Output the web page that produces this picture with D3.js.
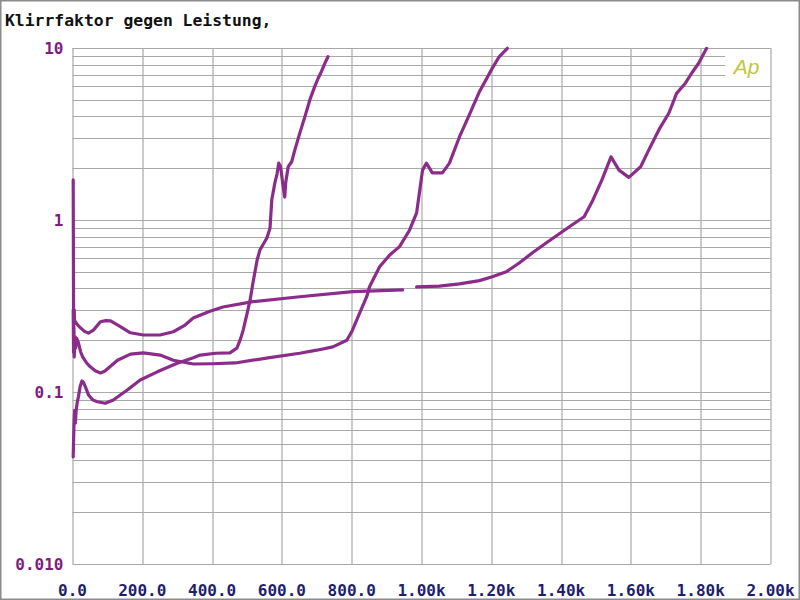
<!DOCTYPE html>
<html>
<head>
<meta charset="utf-8">
<script src="https://cdn.jsdelivr.net/npm/d3@7"></script>
<style>
  body { margin: 0; background: #fff; }
  svg { display: block; }
</style>
</head>
<body>
<div id="chart"></div>
<script>
// THD vs power, three measurements (watts, percent)
const curveA = [[2, 0.042], [4, 0.062], [6, 0.078], [8, 0.066], [11, 0.08], [14, 0.088], [17, 0.094], [22, 0.108],
    [27, 0.116], [31, 0.114], [37, 0.107], [46, 0.096], [58, 0.090], [71, 0.0878], [94, 0.086], [117, 0.0899],
    [137, 0.096], [157, 0.1027], [194, 0.1174], [243, 0.131], [300, 0.147], [346, 0.158], [366, 0.164],
    [410, 0.168], [451, 0.169], [471, 0.180], [482, 0.205], [489, 0.229], [500, 0.285], [509, 0.343],
    [517, 0.430], [529, 0.585], [537, 0.669], [557, 0.786], [566, 0.899], [571, 1.31], [580, 1.65],
    [586, 1.85], [591, 2.14], [596, 2.05], [603, 1.60], [608, 1.36], [611, 1.65], [618, 2.04], [628, 2.18],
    [637, 2.55], [651, 3.19], [666, 3.99], [680, 4.99], [694, 5.96], [704, 6.67], [713, 7.28], [723, 8.15],
    [732, 8.90]];

const curveB = [[2, 0.30], [3, 0.17], [4, 0.24], [5, 0.16], [7, 0.21], [9, 0.18], [12, 0.205], [17, 0.193],
    [23, 0.172], [29, 0.160], [40, 0.148], [51, 0.140], [65, 0.133], [80, 0.129], [92, 0.132], [103, 0.138],
    [129, 0.153], [166, 0.166], [203, 0.169], [251, 0.164], [289, 0.153], [346, 0.1455], [400, 0.146],
    [466, 0.1475], [560, 0.158], [651, 0.168], [700, 0.175], [746, 0.183], [786, 0.200], [800, 0.224],
    [823, 0.288], [843, 0.358], [851, 0.409], [880, 0.535], [909, 0.626], [937, 0.700], [966, 0.875],
    [986, 1.10], [994, 1.44], [1003, 1.95], [1014, 2.14], [1031, 1.88], [1060, 1.88], [1080, 2.14],
    [1109, 3.05], [1137, 4.08], [1166, 5.57], [1203, 7.64], [1223, 8.92], [1246, 9.96]];

const curveC = [[2, 1.71], [3, 0.30], [4, 0.27], [5, 0.30], [6, 0.25], [8.6, 0.256], [15, 0.245], [23, 0.236],
    [35, 0.225], [46, 0.220], [60, 0.229], [80, 0.256], [95, 0.260], [109, 0.259], [137, 0.240], [166, 0.221],
    [203, 0.2145], [251, 0.2145], [289, 0.224], [320, 0.243], [346, 0.269], [390, 0.293], [431, 0.312],
    [517, 0.335], [651, 0.358], [803, 0.383], [946, 0.392], null, [986, 0.408], [1051, 0.413], [1109, 0.425],
    [1166, 0.444], [1203, 0.468], [1243, 0.50], [1280, 0.562], [1317, 0.643], [1357, 0.735], [1394, 0.829],
    [1431, 0.935], [1466, 1.045], [1489, 1.28], [1517, 1.71], [1543, 2.33], [1566, 1.95], [1594, 1.77],
    [1628, 2.04], [1651, 2.55], [1680, 3.34], [1709, 4.19], [1731, 5.45], [1756, 6.24], [1774, 7.13],
    [1794, 8.15], [1817, 9.96]];

const xTicks = [0, 200, 400, 600, 800, 1000, 1200, 1400, 1600, 1800, 2000];
const xTickLabels = ["0.0", "200.0", "400.0", "600.0", "800.0", "1.00k", "1.20k", "1.40k", "1.60k", "1.80k", "2.00k"];
const yTicks = [0.01, 0.1, 1, 10];
const yTickLabels = ["0.010", "0.1", "1", "10"];

const margin = { top: 48, right: 29.5, bottom: 36, left: 72.5 };
const W = 800, H = 600;
const width = W - margin.left - margin.right;
const height = H - margin.top - margin.bottom;

const svg = d3.select("#chart").append("svg")
    .attr("width", W)
    .attr("height", H);

svg.append("rect")
    .attr("x", 0.5).attr("y", 0.5)
    .attr("width", W - 1).attr("height", H - 1)
    .attr("fill", "#fff")
    .attr("stroke", "#8a8a8a")
    .attr("stroke-width", 2);

svg.append("text")
    .attr("x", 5).attr("y", 26)
    .attr("font-family", "DejaVu Sans Mono")
    .attr("font-weight", "bold")
    .attr("font-size", 16.4)
    .attr("fill", "#111")
    .text("Klirrfaktor gegen Leistung,");

const g = svg.append("g").attr("transform", `translate(${margin.left}, ${margin.top})`);

const x = d3.scaleLinear().domain([0, 2000]).range([0, width]);
const y = d3.scaleLog().domain([0.01, 10]).range([height, 0]);

// horizontal grid: 1..9 per decade
const minor = [];
[0.01, 0.1, 1].forEach(dec => { for (let k = 1; k <= 9; k++) minor.push(dec * k); });
minor.push(10);

g.selectAll(".hgrid")
    .data(minor)
    .enter().append("line")
    .attr("x1", 0)
    .attr("x2", d => (d > 6.5 && d < 9.5) ? x(1870) : width)
    .attr("y1", d => Math.round(y(d)) + 0.5)
    .attr("y2", d => Math.round(y(d)) + 0.5)
    .attr("stroke", "#a9a9a9")
    .attr("stroke-width", 1.2);

g.selectAll(".vgrid")
    .data(xTicks)
    .enter().append("line")
    .attr("x1", d => Math.round(x(d)) + 0.5)
    .attr("x2", d => Math.round(x(d)) + 0.5)
    .attr("y1", y(10))
    .attr("y2", height)
    .attr("stroke", "#a9a9a9")
    .attr("stroke-width", 1.2);

// Ap logo
g.append("text")
    .attr("x", x(1895)).attr("y", y(7.1))
    .attr("font-family", "Liberation Sans")
    .attr("font-style", "italic")
    .attr("font-size", 21)
    .attr("fill", "#c4c440")
    .text("Ap");

// y labels
g.selectAll(".ylab")
    .data(yTicks)
    .enter().append("text")
    .attr("x", -9)
    .attr("y", d => y(d))
    .attr("dy", "0.36em")
    .attr("text-anchor", "end")
    .attr("font-family", "DejaVu Sans Mono")
    .attr("font-weight", "bold")
    .attr("font-size", 16)
    .attr("fill", "#7e1d7e")
    .text((d, i) => yTickLabels[i]);

// x labels
g.selectAll(".xlab")
    .data(xTicks)
    .enter().append("text")
    .attr("x", d => x(d))
    .attr("y", height + 32)
    .attr("text-anchor", "middle")
    .attr("font-family", "DejaVu Sans Mono")
    .attr("font-weight", "bold")
    .attr("font-size", 16)
    .attr("fill", "#1e1e6e")
    .text((d, i) => xTickLabels[i]);

const line = d3.line()
    .defined(d => d != null)
    .x(d => x(d[0]))
    .y(d => y(d[1]));

g.selectAll(".curve")
    .data([curveA, curveB, curveC])
    .enter().append("path")
    .attr("d", line)
    .attr("fill", "none")
    .attr("stroke", "#8b2c8b")
    .attr("stroke-width", 3.2)
    .attr("stroke-linejoin", "round")
    .attr("stroke-linecap", "round");
</script>
</body>
</html>
